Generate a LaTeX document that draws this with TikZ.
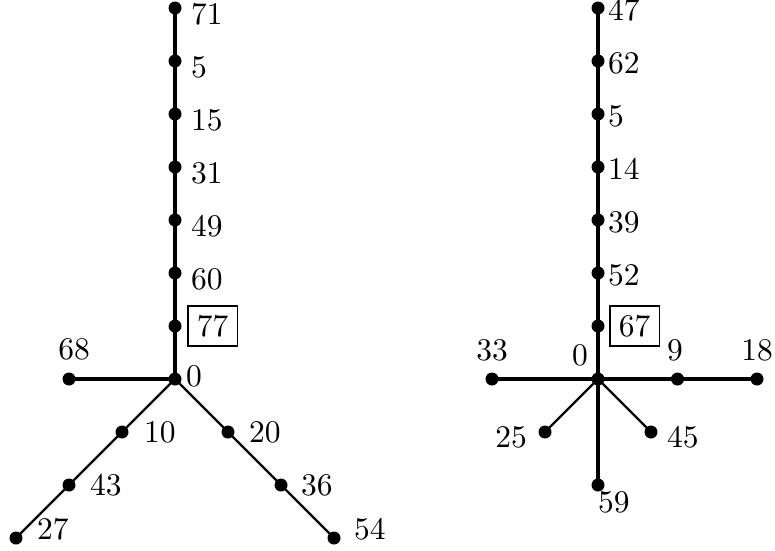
\documentclass[tikz,border=0pt]{standalone}
\usepackage{fontspec}
\setmainfont{lmroman10-regular.otf}
\begin{document}
\begin{tikzpicture}[x=1pt,y=-1pt,
  vtx/.style={circle,fill=black,inner sep=0pt,minimum size=13pt},
  lbl/.style={inner sep=0pt,font=\fontsize{31.5}{37}\selectfont},
  boxlbl/.style={draw,line width=1.7pt,inner sep=9pt,font=\fontsize{31.5}{37}\selectfont},
  trunk/.style={line width=3.4pt},
  twig/.style={line width=2.4pt}]
\useasboundingbox (0,0) rectangle (775,550);

% ---------- left tree ----------
\foreach \n/\y in {71/8,5/61,15/114,31/167,49/220,60/273,77/326,0/379}
  \node[vtx] (L\n) at (175,\y) {};
\node[vtx] (L68) at (69,379) {};
\node[vtx] (L10) at (122,432) {};
\node[vtx] (L43) at (69,485) {};
\node[vtx] (L27) at (16,538) {};
\node[vtx] (L20) at (228,432) {};
\node[vtx] (L36) at (281,485) {};
\node[vtx] (L54) at (334,538) {};

\draw[trunk] (L71.center) -- (L5.center) -- (L15.center) -- (L31.center)
  -- (L49.center) -- (L60.center) -- (L77.center) -- (L0.center);
\draw[trunk] (L68.center) -- (L0.center);
\draw[twig] (L0.center) -- (L10.center) -- (L43.center) -- (L27.center);
\draw[twig] (L0.center) -- (L20.center) -- (L36.center) -- (L54.center);

\foreach \n in {71,5,15,31,49,60}
  \node[lbl,anchor=base west,xshift=16pt,yshift=-16pt] (tL\n) at (L\n) {\n};
\node[boxlbl,anchor=west,xshift=12pt] (tL77) at (L77) {77};
\node[lbl,anchor=base west,xshift=11pt,yshift=-7pt] (tL0) at (L0) {0};
\node[lbl,anchor=base,xshift=5pt,yshift=20pt] (tL68) at (L68) {68};
\node[lbl,anchor=base west,xshift=22pt,yshift=-10pt] (tL10) at (L10) {10};
\node[lbl,anchor=base west,xshift=21pt,yshift=-10pt] (tL43) at (L43) {43};
\node[lbl,anchor=base west,xshift=21pt,yshift=-1pt] (tL27) at (L27) {27};
\node[lbl,anchor=base west,xshift=21pt,yshift=-10pt] (tL20) at (L20) {20};
\node[lbl,anchor=base west,xshift=20pt,yshift=-10pt] (tL36) at (L36) {36};
\node[lbl,anchor=base west,xshift=20pt,yshift=-1pt] (tL54) at (L54) {54};

% ---------- right tree ----------
\foreach \n/\y in {47/8,62/61,5/114,14/167,39/220,52/273,67/326,0/379}
  \node[vtx] (R\n) at (598,\y) {};
\node[vtx] (R33) at (492,379) {};
\node[vtx] (R9) at (677.5,379) {};
\node[vtx] (R18) at (757,379) {};
\node[vtx] (R25) at (545,432) {};
\node[vtx] (R45) at (651,432) {};
\node[vtx] (R59) at (598,485) {};

\draw[trunk] (R47.center) -- (R62.center) -- (R5.center) -- (R14.center)
  -- (R39.center) -- (R52.center) -- (R67.center) -- (R0.center) -- (R59.center);
\draw[trunk] (R33.center) -- (R0.center) -- (R9.center) -- (R18.center);
\draw[twig] (R0.center) -- (R25.center);
\draw[twig] (R0.center) -- (R45.center);

\foreach \n in {47,62,5,14,39,52}
  \node[lbl,anchor=base west,xshift=10pt,yshift=-12pt] (tR\n) at (R\n) {\n};
\node[boxlbl,anchor=west,xshift=11pt] (tR67) at (R67) {67};
\node[lbl,anchor=base east,xshift=-10pt,yshift=14pt] (tR0) at (R0) {0};
\node[lbl,anchor=base,yshift=19pt] (tR33) at (R33) {33};
\node[lbl,anchor=base,xshift=-2.5pt,yshift=19pt] (tR9) at (R9) {9};
\node[lbl,anchor=base,yshift=19pt] (tR18) at (R18) {18};
\node[lbl,anchor=base east,xshift=-18pt,yshift=-15pt] (tR25) at (R25) {25};
\node[lbl,anchor=base west,xshift=16pt,yshift=-15pt] (tR45) at (R45) {45};
\node[lbl,anchor=base west,xshift=0pt,yshift=-27pt] (tR59) at (R59) {59};
\end{tikzpicture}
\end{document}
